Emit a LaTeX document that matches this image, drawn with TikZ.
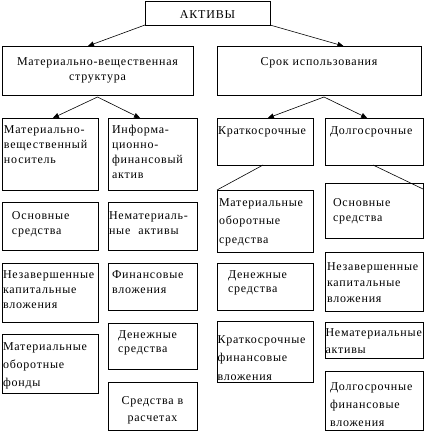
\documentclass[tikz,border=0pt]{standalone}
\usepackage{fontspec}
\setmainfont{Liberation Serif}[LetterSpace=6.5]
\usetikzlibrary{arrows.meta, calc}

\begin{document}
\begin{tikzpicture}[x=1pt, y=-1pt,
  cell/.style={draw, line width=1pt, anchor=north west, outer sep=0pt,
    inner ysep=0pt, align=left, font=\fontsize{12}{15}\selectfont},
  arr/.style={line width=0.6pt, -{Triangle[length=6pt,width=5pt]}}]
\useasboundingbox (0,0) rectangle (427,431);
% --- top ---
\node[cell, align=center, inner xsep=2pt, text width=121pt, text height=17pt, text depth=7pt] (aktivy) at (145,1) {АКТИВЫ};
\node[cell, align=center, inner xsep=2pt, text width=187pt, text height=19pt, text depth=30pt] (mat) at (2,46) {Материально-вещественная\\структура};
\node[cell, align=center, inner xsep=2pt, text width=200pt, text height=19pt, text depth=30pt] (srok) at (217,46) {Срок использования};
\draw[arr] (aktivy.south west) -- ($(mat.north west)!0.45!(mat.north east)$);
\draw[arr] (aktivy.south east) -- ($(srok.north west)!0.62!(srok.north east)$);
% --- left: material structure ---
\node[cell, inner xsep=2pt, text width=92pt, text height=15pt, text depth=57pt] (nos) at (2,118) {Материально-\\вещественный\\носитель};
\node[cell, inner xsep=4pt, text width=81pt, text height=15pt, text depth=57pt] (inf) at (108,118) {Информа-\\ционно-\\финансовый\\актив};
\coordinate (mapex) at ($(mat.south)+(0,2)$);
\draw[arr] (mapex) -- ($(nos.north west)!0.53!(nos.north east)$);
\draw[arr] (mapex) -- ($(inf.north west)!0.36!(inf.north east)$);
\node[cell, inner xsep=10pt, text width=76pt, text height=17pt, text depth=31pt] (os1) at (2,202) {Основные\\средства};
\node[cell, inner xsep=1pt, text width=87pt, text height=17pt, text depth=31pt] (nem1) at (108,202) {Нематериаль-\\ные\ \ активы};
\node[cell, inner xsep=1pt, text width=94pt, text height=15pt, text depth=44pt] (nez1) at (2,263) {Незавершенные\\капитальные\\вложения};
\node[cell, inner xsep=4pt, text width=81pt, text height=15pt, text depth=32pt] (fin1) at (108,263) {Финансовые\\вложения};
\node[cell, inner xsep=1pt, text width=94pt, text height=16pt, text depth=43pt, font=\fontsize{12}{18}\selectfont] (mof) at (2,334) {Материальные\\оборотные\\фонды};
\node[cell, inner xsep=10pt, text width=69pt, text height=15pt, text depth=31pt, font=\fontsize{12}{14}\selectfont] (den1) at (108,323) {Денежные\\средства};
\node[cell, align=center, inner xsep=2pt, text width=85pt, text height=22pt, text depth=26pt, font=\fontsize{12}{17}\selectfont] (ras) at (108,382) {Средства в\\расчетах};
% --- right: term of use ---
\node[cell, inner xsep=1pt, text width=94pt, text height=16pt, text depth=31pt] (kr) at (217,118) {Краткосрочные};
\node[cell, inner xsep=5pt, text width=88pt, text height=16pt, text depth=31pt] (dol) at (325,118) {Долгосрочные};
\coordinate (sapex) at ($(srok.south)+(5,2)$);
\draw[arr] (sapex) -- ($(kr.north west)!0.53!(kr.north east)$);
\draw[arr] (sapex) -- ($(dol.north west)!0.43!(dol.north east)$);
\node[cell, inner xsep=2pt, text width=92pt, text height=16pt, text depth=46pt, font=\fontsize{12}{18.5}\selectfont] (mos) at (217,190) {Материальные\\оборотные\\средства};
\node[cell, inner xsep=8pt, text width=82pt, text height=23pt, text depth=32pt] (os2) at (325,183) {Основные\\средства};
\draw[line width=0.6pt] ($(kr.south west)!0.48!(kr.south east)$) -- (mos.north west);
\draw[line width=0.6pt] ($(dol.south west)!0.49!(dol.south east)$) -- ($(os2.north east)+(0,6)$);
\node[cell, inner xsep=11pt, text width=74pt, text height=15pt, text depth=32pt, font=\fontsize{12}{14}\selectfont] (den2) at (217,263) {Денежные\\средства};
\node[cell, inner xsep=2pt, text width=94pt, text height=18pt, text depth=41pt, font=\fontsize{12}{16}\selectfont] (nez2) at (325,252) {Незавершенные\\капитальные\\вложения};
\node[cell, inner xsep=0.5pt, text width=95pt, text height=22pt, text depth=39pt, font=\fontsize{12}{18.5}\selectfont] (kfv) at (217,321) {Краткосрочные\\финансовые\\вложения};
\node[cell, inner xsep=0.5pt, text width=97pt, text height=14pt, text depth=22pt, font=\fontsize{12}{17}\selectfont] (nem2) at (325,322) {Нематериальные\\активы};
\node[cell, inner xsep=5pt, text width=88pt, text height=19pt, text depth=40pt, font=\fontsize{12}{18}\selectfont] (dfv) at (325,371) {Долгосрочные\\финансовые\\вложения};
\end{tikzpicture}
\end{document}
